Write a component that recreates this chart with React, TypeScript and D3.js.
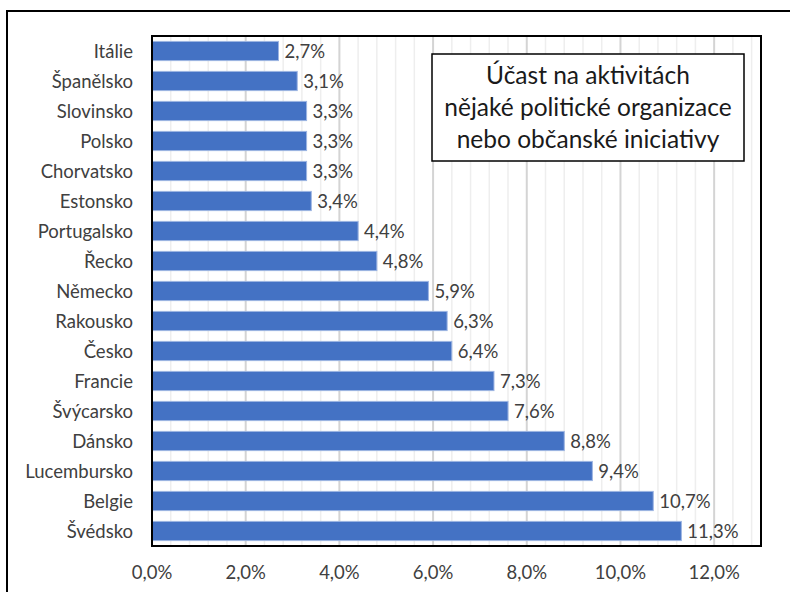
import { useEffect, useRef } from "react"
import * as d3 from "d3"

const countries = [
  "Itálie",
  "Španělsko",
  "Slovinsko",
  "Polsko",
  "Chorvatsko",
  "Estonsko",
  "Portugalsko",
  "Řecko",
  "Německo",
  "Rakousko",
  "Česko",
  "Francie",
  "Švýcarsko",
  "Dánsko",
  "Lucembursko",
  "Belgie",
  "Švédsko",
]
const values = [2.7, 3.1, 3.3, 3.3, 3.3, 3.4, 4.4, 4.8, 5.9, 6.3, 6.4, 7.3, 7.6, 8.8, 9.4, 10.7, 11.3]
const xTicks = [0, 2, 4, 6, 8, 10, 12]
const titleLines = ["Účast na aktivitách", "nějaké politické organizace", "nebo občanské iniciativy"]

const FONT = "Lato, 'Open Sans', sans-serif"
const fmt = (v: number) => v.toFixed(1).replace(".", ",") + "%"

export default function App() {
  const svgRef = useRef<SVGSVGElement>(null)

  useEffect(() => {
    if (!svgRef.current) return
    const svg = d3.select(svgRef.current)
    svg.selectAll("*").remove()

    const width = 790
    const height = 592
    const plot = { left: 152, right: 761, top: 36, bottom: 546 }

    // outer chart frame (runs off the picture at right and bottom)
    svg
      .append("rect")
      .attr("x", 7)
      .attr("y", 11)
      .attr("width", width)
      .attr("height", height)
      .attr("fill", "white")
      .attr("stroke", "black")
      .attr("stroke-width", 2)

    const x = d3.scaleLinear().domain([0, 13]).range([plot.left, plot.right])
    const y = d3
      .scaleBand()
      .domain(countries)
      .range([plot.top, plot.bottom])
      .paddingInner(0.36)
      .paddingOuter(0.18)

    // minor gridlines
    const minor = d3.range(0.4, 13, 0.4).filter((v) => Math.abs(v / 2 - Math.round(v / 2)) > 0.01)
    svg
      .append("g")
      .selectAll("line")
      .data(minor)
      .join("line")
      .attr("x1", (d) => x(d))
      .attr("x2", (d) => x(d))
      .attr("y1", plot.top)
      .attr("y2", plot.bottom)
      .attr("stroke", "#eeeeee")
      .attr("stroke-width", 1.5)

    // major gridlines
    svg
      .append("g")
      .selectAll("line")
      .data(xTicks.filter((d) => d > 0))
      .join("line")
      .attr("x1", (d) => x(d))
      .attr("x2", (d) => x(d))
      .attr("y1", plot.top)
      .attr("y2", plot.bottom)
      .attr("stroke", "#d4d4d4")
      .attr("stroke-width", 2)

    // bars
    svg
      .append("g")
      .selectAll("rect")
      .data(values)
      .join("rect")
      .attr("x", x(0))
      .attr("y", (_, i) => y(countries[i]) as number)
      .attr("width", (d) => x(d) - x(0))
      .attr("height", y.bandwidth())
      .attr("fill", "#4472C4")
      .attr("stroke", "#9db5e2")
      .attr("stroke-width", 1)

    // value labels
    svg
      .append("g")
      .selectAll("text")
      .data(values)
      .join("text")
      .attr("x", (d) => x(d) + 6)
      .attr("y", (_, i) => (y(countries[i]) as number) + y.bandwidth() / 2)
      .attr("dy", "0.36em")
      .attr("font-family", FONT)
      .attr("font-size", 18.5)
      .attr("fill", "#404040")
      .text((d) => fmt(d))

    // category labels
    svg
      .append("g")
      .selectAll("text")
      .data(countries)
      .join("text")
      .attr("x", 133)
      .attr("y", (d) => (y(d) as number) + y.bandwidth() / 2)
      .attr("dy", "0.36em")
      .attr("text-anchor", "end")
      .attr("font-family", FONT)
      .attr("font-size", 18.5)
      .attr("fill", "#404040")
      .text((d) => d)

    // x tick labels
    svg
      .append("g")
      .selectAll("text")
      .data(xTicks)
      .join("text")
      .attr("x", (d) => x(d))
      .attr("y", 579)
      .attr("text-anchor", "middle")
      .attr("font-family", FONT)
      .attr("font-size", 18.5)
      .attr("fill", "#404040")
      .text((d) => fmt(d))

    // plot border
    svg
      .append("rect")
      .attr("x", plot.left)
      .attr("y", plot.top)
      .attr("width", plot.right - plot.left)
      .attr("height", plot.bottom - plot.top)
      .attr("fill", "none")
      .attr("stroke", "black")
      .attr("stroke-width", 2)

    // title box
    const box = { x: 432, y: 54, w: 312, h: 107 }
    svg
      .append("rect")
      .attr("x", box.x)
      .attr("y", box.y)
      .attr("width", box.w)
      .attr("height", box.h)
      .attr("fill", "white")
      .attr("stroke", "black")
      .attr("stroke-width", 1.5)

    svg
      .append("g")
      .selectAll("text")
      .data(titleLines)
      .join("text")
      .attr("x", box.x + box.w / 2)
      .attr("y", (_, i) => 84 + i * 32)
      .attr("text-anchor", "middle")
      .attr("font-family", FONT)
      .attr("font-size", 24.5)
      .attr("fill", "#1a1a1a")
      .text((d) => d)
  }, [])

  return (
    <div style={{ position: "fixed", left: 0, top: 0 }}>
      <svg ref={svgRef} width={790} height={592} style={{ display: "block", background: "white" }} />
    </div>
  )
}
